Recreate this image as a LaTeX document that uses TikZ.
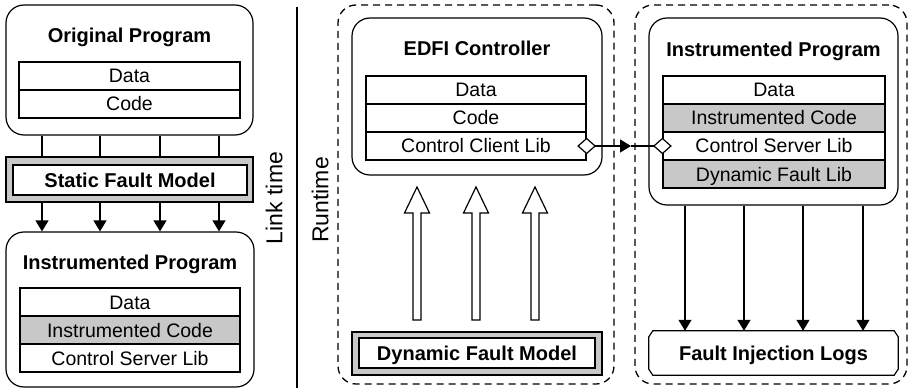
\documentclass[tikz,border=0pt]{standalone}
\usepackage{fontspec}
\setmainfont{Liberation Sans}
\usetikzlibrary{arrows.meta}
\definecolor{shade}{RGB}{200,200,200}

\begin{document}
\begin{tikzpicture}[x=1pt,y=-1pt,
  ln/.style={line width=1.2pt},
  rbox/.style={draw,line width=1.2pt,rounded corners=18pt,inner sep=0pt},
  dbox/.style={draw,line width=1.3pt,dash pattern=on 7pt off 5pt,rounded corners=18pt,inner sep=0pt},
  title/.style={font=\fontsize{20}{24}\selectfont\bfseries,inner sep=0pt,text height=14.3pt,text depth=0pt},
  cell/.style={draw,line width=1.2pt,fill=white,inner sep=0pt,minimum height=28pt,
    font=\fontsize{19.5}{23}\selectfont,text height=14pt,text depth=0pt},
  grey/.style={fill=shade},
  model/.style={draw,line width=1.2pt,fill=shade,inner sep=0pt},
  modelin/.style={draw,line width=1.2pt,fill=white,inner sep=0pt,
    font=\fontsize{20}{24}\selectfont\bfseries,text height=14.3pt,text depth=0pt},
  phase/.style={rotate=90,font=\fontsize{23}{27}\selectfont,inner sep=0pt,text height=16.5pt,text depth=0pt},
  tip/.style={-{Triangle[length=11pt,width=13pt]}},
]
\useasboundingbox (0,0) rectangle (909,390);

% ---------------- link time ----------------
\node[rbox,minimum width=247pt,minimum height=130pt] (orig) at (129.5,70) {};
\node[title] (origT) at (129.5,35) {Original Program};
\node[cell,minimum width=221pt] (oData) at (129.5,76) {Data};
\node[cell,minimum width=221pt] (oCode) at (129.5,104) {Code};

\node[model,minimum width=247pt,minimum height=45pt] (sfm) at (129.5,179.5) {};
\node[modelin,minimum width=234pt,minimum height=30pt] (sfmIn) at (130,180) {Static Fault Model};

\node[rbox,minimum width=248pt,minimum height=155pt] (ipL) at (130,309.5) {};
\node[title] (ipLT) at (130,262) {Instrumented Program};
\node[cell,minimum width=220pt] (lData) at (130,302) {Data};
\node[cell,grey,minimum width=220pt] (lCode) at (130,330) {Instrumented Code};
\node[cell,minimum width=220pt] (lSrv) at (130,358) {Control Server Lib};

\foreach \x [count=\i] in {42,100,160,219} {
  \coordinate (k\i) at (\x,0);
  \draw[ln] (k\i |- orig.south) -- (k\i |- sfm.north);
  \draw[ln,tip] (k\i |- sfm.south) -- (k\i |- ipL.north);
}

\node[phase] (link) at (274,198) {Link time};
\draw[ln] (297,7) -- (297,388);
\node[phase] (run) at (320,200) {Runtime};

% ---------------- runtime ----------------
\node[dbox,minimum width=276pt,minimum height=379pt] (ctlArea) at (476,194.5) {};
\node[dbox,minimum width=272pt,minimum height=379pt] (prgArea) at (771,194.5) {};

\node[rbox,minimum width=250pt,minimum height=157pt] (edfi) at (477,96.5) {};
\node[title] (edfiT) at (477,48) {EDFI Controller};
\node[cell,minimum width=220pt] (eData) at (476,90) {Data};
\node[cell,minimum width=220pt] (eCode) at (476,118) {Code};
\node[cell,minimum width=220pt] (eCli) at (476,146) {Control Client Lib};

\node[model,minimum width=250pt,minimum height=43pt] (dfm) at (477,353.5) {};
\node[modelin,minimum width=236pt,minimum height=30pt] (dfmIn) at (477,353) {Dynamic Fault Model};

% hollow arrows from the dynamic fault model up to the controller
\foreach \x in {417,476,535}
  \draw[ln,fill=white] (\x-4,320) -- (\x-4,213) -- (\x-12.5,213) -- (\x,187)
    -- (\x+12.5,213) -- (\x+4,213) -- (\x+4,320) -- cycle;

\node[rbox,minimum width=249pt,minimum height=187pt] (ipR) at (773.5,111.5) {};
\node[title] (ipRT) at (773.5,49) {Instrumented Program};
\node[cell,minimum width=222pt] (rData) at (774,90) {Data};
\node[cell,grey,minimum width=222pt] (rCode) at (774,118) {Instrumented Code};
\node[cell,minimum width=222pt] (rSrv) at (774,146) {Control Server Lib};
\node[cell,grey,minimum width=222pt] (rDyn) at (774,174) {Dynamic Fault Lib};

% diamond ports on the client and server libraries
\coordinate (cliPort) at (eCli.east);
\coordinate (srvPort) at (rSrv.west);
\foreach \p in {cliPort,srvPort}
  \draw[ln,fill=white] ([xshift=-8.5pt]\p) -- ([yshift=7.5pt]\p) -- ([xshift=8.5pt]\p)
    -- ([yshift=-7.5pt]\p) -- cycle;
\coordinate (cliOut) at ([xshift=8.5pt]cliPort);
\coordinate (srvIn) at ([xshift=-8.5pt]srvPort);
\coordinate (mid) at (631,146);
\draw[ln,tip] (cliOut) -- (mid);
\draw[ln] (mid) -- (srvIn);

% log sink with small cut corners
\node[inner sep=0pt,minimum width=249pt,minimum height=44pt,
  font=\fontsize{20}{24}\selectfont\bfseries,text height=14.3pt,text depth=0pt] (logs) at (773.5,353) {Fault Injection Logs};
\draw[ln] ([xshift=4pt]logs.north west) -- ([xshift=-4pt]logs.north east)
  -- ([yshift=-6pt]logs.north east) -- ([yshift=6pt]logs.south east)
  -- ([xshift=-4pt]logs.south east) -- ([xshift=4pt]logs.south west)
  -- ([yshift=6pt]logs.south west) -- ([yshift=-6pt]logs.north west) -- cycle;

\foreach \x [count=\i] in {685,744,803,863} {
  \coordinate (r\i) at (\x,0);
  \draw[ln,tip] (r\i |- ipR.south) -- (r\i |- logs.north);
}
\end{tikzpicture}
\end{document}
